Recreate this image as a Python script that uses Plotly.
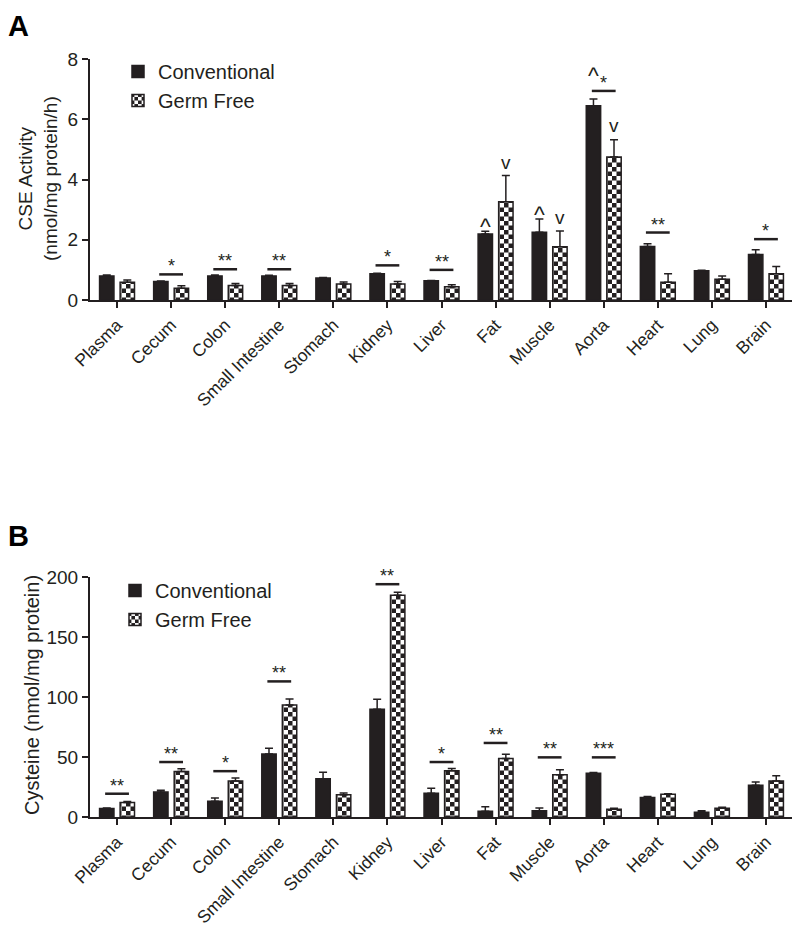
import plotly.graph_objects as go

# ---------------- data ----------------
categories = ["Plasma", "Cecum", "Colon", "Small Intestine", "Stomach", "Kidney",
              "Liver", "Fat", "Muscle", "Aorta", "Heart", "Lung", "Brain"]
series_names = ["Conventional", "Germ Free"]

cse_conv = [0.80, 0.61, 0.80, 0.80, 0.73, 0.87, 0.64, 2.19, 2.25, 6.45, 1.78, 0.97, 1.51]
cse_conv_err = [0.03, 0.02, 0.03, 0.02, 0.02, 0.02, 0.01, 0.09, 0.44, 0.22, 0.09, 0.02, 0.16]
cse_gf = [0.59, 0.39, 0.48, 0.48, 0.53, 0.53, 0.44, 3.26, 1.77, 4.75, 0.59, 0.69, 0.87]
cse_gf_err = [0.07, 0.08, 0.07, 0.07, 0.07, 0.08, 0.07, 0.87, 0.52, 0.57, 0.28, 0.11, 0.24]
cse_sig = ["", "*", "**", "**", "", "*", "**", "", "", "*", "**", "", "*"]
cse_sig_level = [None, 0.85, 1.02, 1.02, None, 1.15, 1.00, None, None, 6.94, 2.24, None, 2.02]
# (category, series index, symbol, level)
cse_marks = [("Fat", 0, "^", 2.60), ("Fat", 1, "v", 4.49),
             ("Muscle", 0, "^", 2.99), ("Muscle", 1, "v", 2.68),
             ("Aorta", 0, "^", 7.59), ("Aorta", 1, "v", 5.73)]

cys_conv = [7.0, 20.8, 13.1, 52.5, 31.8, 89.8, 19.7, 4.7, 5.3, 36.5, 16.2, 3.9, 26.4]
cys_conv_err = [0.5, 1.4, 2.8, 4.7, 5.5, 8.3, 4.2, 3.9, 2.2, 0.6, 0.8, 1.4, 2.8]
cys_gf = [12.0, 38.0, 30.0, 93.3, 18.6, 184.7, 38.6, 48.7, 35.2, 6.5, 19.0, 7.2, 30.0]
cys_gf_err = [0.9, 2.2, 2.5, 5.0, 1.4, 2.5, 1.9, 3.6, 4.2, 0.8, 0.3, 1.0, 4.4]
cys_sig = ["**", "**", "*", "**", "", "**", "*", "**", "**", "***", "", "", ""]
cys_sig_level = [19.4, 45.8, 38.2, 113, None, 194, 45.8, 61.7, 49.7, 49.7, None, None, None]

cse_ticks = [0, 2, 4, 6, 8]
cys_ticks = [0, 50, 100, 150, 200]

# ---------------- style ----------------
DARK = "#231f20"
FONT = "Arial, Liberation Sans, Helvetica, sans-serif"
PAGE_OFF = 8                      # default page margin around the plot div
W, H = 800 - PAGE_OFF, 926 - PAGE_OFF


def px_x(p):
    return (p - PAGE_OFF) / W


def px_y(p):
    return 1 - (p - PAGE_OFF) / H


def gf_pattern():
    s = 9
    h = s / 2
    path = f"M0,0H{h}V{h}H0Z M{h},{h}H{s}V{s}H{h}Z"
    try:
        return go.bar.marker.Pattern(path=path, size=s, fgcolor=DARK,
                                     bgcolor="white", fgopacity=1)
    except Exception:
        return go.bar.marker.Pattern(shape=".", size=6, solidity=0.5,
                                     fgcolor=DARK, bgcolor="white", fgopacity=1)


fig = go.Figure()

panels = [
    dict(x="x", y="y", legend="legend", conv=cse_conv, conv_err=cse_conv_err,
         gf=cse_gf, gf_err=cse_gf_err),
    dict(x="x2", y="y2", legend="legend2", conv=cys_conv, conv_err=cys_conv_err,
         gf=cys_gf, gf_err=cys_gf_err),
]

for p in panels:
    fig.add_trace(go.Bar(
        x=categories, y=p["conv"], name=series_names[0],
        xaxis=p["x"], yaxis=p["y"], legend=p["legend"],
        marker=dict(color=DARK, line=dict(color=DARK, width=1.5)),
        error_y=dict(type="data", symmetric=False, array=p["conv_err"],
                     arrayminus=[0] * len(categories), color=DARK,
                     thickness=1.5, width=4),
    ))
    fig.add_trace(go.Bar(
        x=categories, y=p["gf"], name=series_names[1],
        xaxis=p["x"], yaxis=p["y"], legend=p["legend"],
        marker=dict(color="white", line=dict(color=DARK, width=1.5),
                    pattern=gf_pattern()),
        error_y=dict(type="data", symmetric=False, array=p["gf_err"],
                     arrayminus=[0] * len(categories), color=DARK,
                     thickness=1.5, width=4),
    ))

shapes = []
annotations = []
HALF = 0.22
for sig, lev, xr, yr in [(cse_sig, cse_sig_level, "x", "y"),
                         (cys_sig, cys_sig_level, "x2", "y2")]:
    for i, (s, l) in enumerate(zip(sig, lev)):
        if not s:
            continue
        shapes.append(dict(type="line", xref=xr, yref=yr, x0=i - HALF, x1=i + HALF,
                           y0=l, y1=l, line=dict(color=DARK, width=2.5)))
        annotations.append(dict(xref=xr, yref=yr, x=i, y=l, text=s, showarrow=False,
                                xanchor="center", yanchor="bottom", yshift=-4,
                                font=dict(family=FONT, size=18, color=DARK)))

OFF = 0.19
for cat, si, sym, lev in cse_marks:
    i = categories.index(cat)
    xx = i - OFF if si == 0 else i + OFF
    annotations.append(dict(xref="x", yref="y", x=xx, y=lev, text=sym, showarrow=False,
                            xanchor="center", yanchor="middle",
                            yshift=-5 if sym == "^" else 2,
                            font=dict(family=FONT, size=23 if sym == "^" else 19,
                                      color=DARK)))

# panel letters
for letter, top in [("A", 8), ("B", 518)]:
    annotations.append(dict(xref="paper", yref="paper", x=px_x(6), y=px_y(top),
                            xanchor="left", yanchor="top", text=f"<b>{letter}</b>",
                            showarrow=False, font=dict(family=FONT, size=29, color="black")))

# y titles
annotations.append(dict(xref="paper", yref="paper", x=px_x(38), y=px_y(179),
                        xanchor="center", yanchor="middle", textangle=-90,
                        text="CSE Activity<br>(nmol/mg protein/h)", showarrow=False,
                        font=dict(family=FONT, size=19, color=DARK)))
annotations.append(dict(xref="paper", yref="paper", x=px_x(32), y=px_y(695),
                        xanchor="center", yanchor="middle", textangle=-90,
                        text="Cysteine (nmol/mg protein)", showarrow=False,
                        font=dict(family=FONT, size=20, color=DARK)))

xdom = [px_x(90), px_x(793)]
xcommon = dict(domain=xdom, range=[-0.5, 12.5], showline=True, linecolor=DARK,
               linewidth=2, ticks="outside", ticklen=6, tickwidth=2, tickcolor=DARK,
               tickangle=-45, tickfont=dict(family=FONT, size=17.5, color=DARK),
               showgrid=False, zeroline=False, type="category", automargin=False)
ycommon = dict(showline=True, linecolor=DARK, linewidth=2, ticks="outside",
               ticklen=6, tickwidth=2, tickcolor=DARK,
               tickfont=dict(family=FONT, size=19, color=DARK),
               showgrid=False, zeroline=False, automargin=False)

legend_common = dict(font=dict(family=FONT, size=20, color=DARK), bgcolor="rgba(0,0,0,0)",
                     xanchor="left", yanchor="top", tracegroupgap=0, itemwidth=30,
                     traceorder="normal")

fig.update_layout(
    width=W, height=H,
    margin=dict(l=0, r=0, t=0, b=0, pad=0, autoexpand=False),
    paper_bgcolor="white", plot_bgcolor="white",
    barmode="group", bargap=0.24, bargroupgap=0.3,
    xaxis=dict(**xcommon, anchor="y"),
    yaxis=dict(**ycommon, domain=[px_y(300), px_y(59)], range=[0, 8],
               tickvals=cse_ticks, anchor="x"),
    xaxis2=dict(**xcommon, anchor="y2"),
    yaxis2=dict(**ycommon, domain=[px_y(817), px_y(577)], range=[0, 200],
                tickvals=cys_ticks, anchor="x2"),
    legend=dict(**legend_common, x=px_x(118), y=px_y(52)),
    legend2=dict(**legend_common, x=px_x(115), y=px_y(571)),
    shapes=shapes,
    annotations=annotations,
    showlegend=True,
    font=dict(family=FONT, color=DARK),
)

fig.write_html("out.html")
